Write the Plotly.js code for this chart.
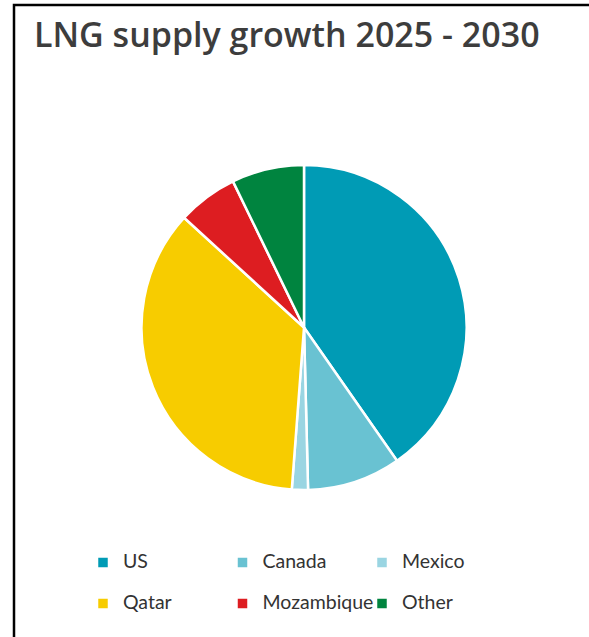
<!DOCTYPE html>
<html>
<head>
<meta charset="utf-8">
<script src="https://cdn.plot.ly/plotly-3.0.1.min.js"></script>
<style>html,body{margin:0;padding:0;background:#fff;overflow:hidden;}#chart{width:589px;height:637px;}</style>
</head>
<body>
<div id="chart"></div>
<script>
const titleText = "LNG supply growth 2025 - 2030";
const labels = ["US", "Canada", "Mexico", "Qatar", "Mozambique", "Other"];
const shares = [40.3, 9.3, 1.6, 35.6, 6.0, 7.2];
const colors = ["#009bb5", "#69c2d2", "#9ad5e2", "#f7cc00", "#dd1d21", "#00843f"];

const W = 589, H = 637;
const ML = 83;                 // left margin: the legend starts here
const PW = W - ML;             // plot-area width
const cx = 304, cy = 327.5, r = 162.5;
const xp = px => (px - ML) / PW;   // page pixel -> paper x
const yp = py => 1 - py / H;       // page pixel -> paper y

// a large legend font sets the 41px row height; the visible label text is smaller and lifted
const legendLabels = labels.map(l => '<span style="font-size:19.5px;baseline-shift:6px">' + l + '</span>');

const trace = {
  type: "pie",
  labels: legendLabels,
  values: shares,
  sort: false,
  direction: "clockwise",
  rotation: 0,
  textinfo: "none",
  hoverinfo: "percent",
  marker: {colors: colors, line: {color: "#ffffff", width: 2.5}},
  domain: {
    x: [xp(cx - r), xp(cx + r)],
    y: [yp(cy + r), yp(cy - r)]
  }
};

const layout = {
  width: W, height: H,
  margin: {l: ML, r: 0, t: 0, b: 0},
  paper_bgcolor: "#ffffff",
  plot_bgcolor: "#ffffff",
  title: {
    text: titleText,
    font: {family: "'Open Sans', Lato, sans-serif", size: 34, color: "#3d3d3d", weight: 600},
    x: 34 / W, xanchor: "left", xref: "container",
    y: 1 - 35.5 / H, yanchor: "middle", yref: "container"
  },
  showlegend: true,
  legend: {
    orientation: "h",
    x: 0, xanchor: "left",
    y: yp(537), yanchor: "top",
    entrywidth: 94.5, entrywidthmode: "pixels",
    font: {family: "Lato, 'Open Sans', sans-serif", size: 29.2, color: "#333333"},
    traceorder: "normal"
  },
  shapes: [
    {type: "path", xref: "paper", yref: "paper",
     path: "M" + xp(14) + "," + yp(H) + " L" + xp(14) + "," + yp(5) + " L" + xp(W) + "," + yp(5),
     line: {color: "#000000", width: 2.5}, fillcolor: "rgba(0,0,0,0)"}
  ]
};

Plotly.newPlot("chart", [trace], layout, {displayModeBar: false, staticPlot: true});
</script>
</body>
</html>
